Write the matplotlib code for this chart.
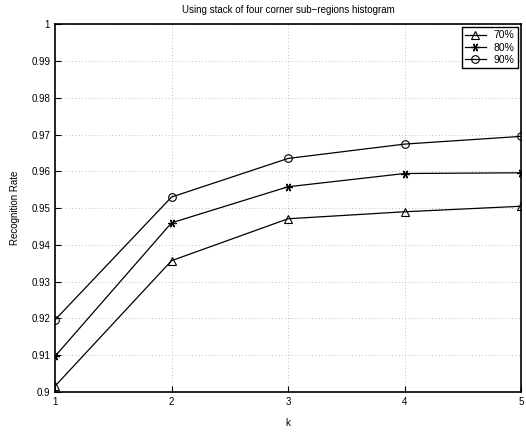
import numpy as np
import matplotlib
matplotlib.use("Agg")
import matplotlib.pyplot as plt

plt.rcParams['font.family'] = ['Liberation Sans', 'DejaVu Sans']

k = [1, 2, 3, 4, 5]
rate_70 = [0.9016, 0.9357, 0.9471, 0.9490, 0.9505]
rate_80 = [0.9097, 0.9460, 0.9558, 0.9594, 0.9596]
rate_90 = [0.9196, 0.9530, 0.9635, 0.9674, 0.9695]
labels = ['70%', '80%', '90%']

fig = plt.figure(figsize=(5.26, 4.32), dpi=100)
ax = fig.add_axes([0.1046, 0.0926, 0.886, 0.8514])

ax.plot(k, rate_70, color='k', lw=0.9, marker='^', mfc='none', ms=5.5, mew=0.8, label=labels[0])
ax.plot(k, rate_80, color='k', lw=0.9, marker=(6, 2, 90), ms=6, mew=0.9, label=labels[1])
ax.plot(k, rate_90, color='k', lw=0.9, marker='o', mfc='none', ms=5.5, mew=0.8, label=labels[2])

ax.set_xlim(1, 5)
ax.set_ylim(0.9, 1.0)
ax.set_xticks(k)
yt = np.round(np.arange(0.9, 1.001, 0.01), 2)
ax.set_yticks(yt)
ax.set_yticklabels(['0.9'] + ['%.2f' % v for v in yt[1:-1]] + ['1'])
ax.tick_params(direction='in', labelsize=7, length=4, width=0.8)
ax.grid(True, linestyle=(0, (1, 3)), color='#aaaaaa', lw=0.6)
for s in ax.spines.values():
    s.set_linewidth(1.2)

ax.set_xlabel('k', fontsize=7, labelpad=8)
ax.set_ylabel('Recognition Rate', fontsize=7, labelpad=8)
ax.set_title('Using stack of four corner sub\u2212regions histogram', fontsize=7, pad=8)

leg = ax.legend(loc='upper right', fontsize=7.5, fancybox=False, framealpha=1,
                edgecolor='k', handlelength=2, borderpad=0.3, labelspacing=0.2,
                borderaxespad=0.3)
leg.get_frame().set_linewidth(1.0)

fig.savefig('out.png', dpi=100)
